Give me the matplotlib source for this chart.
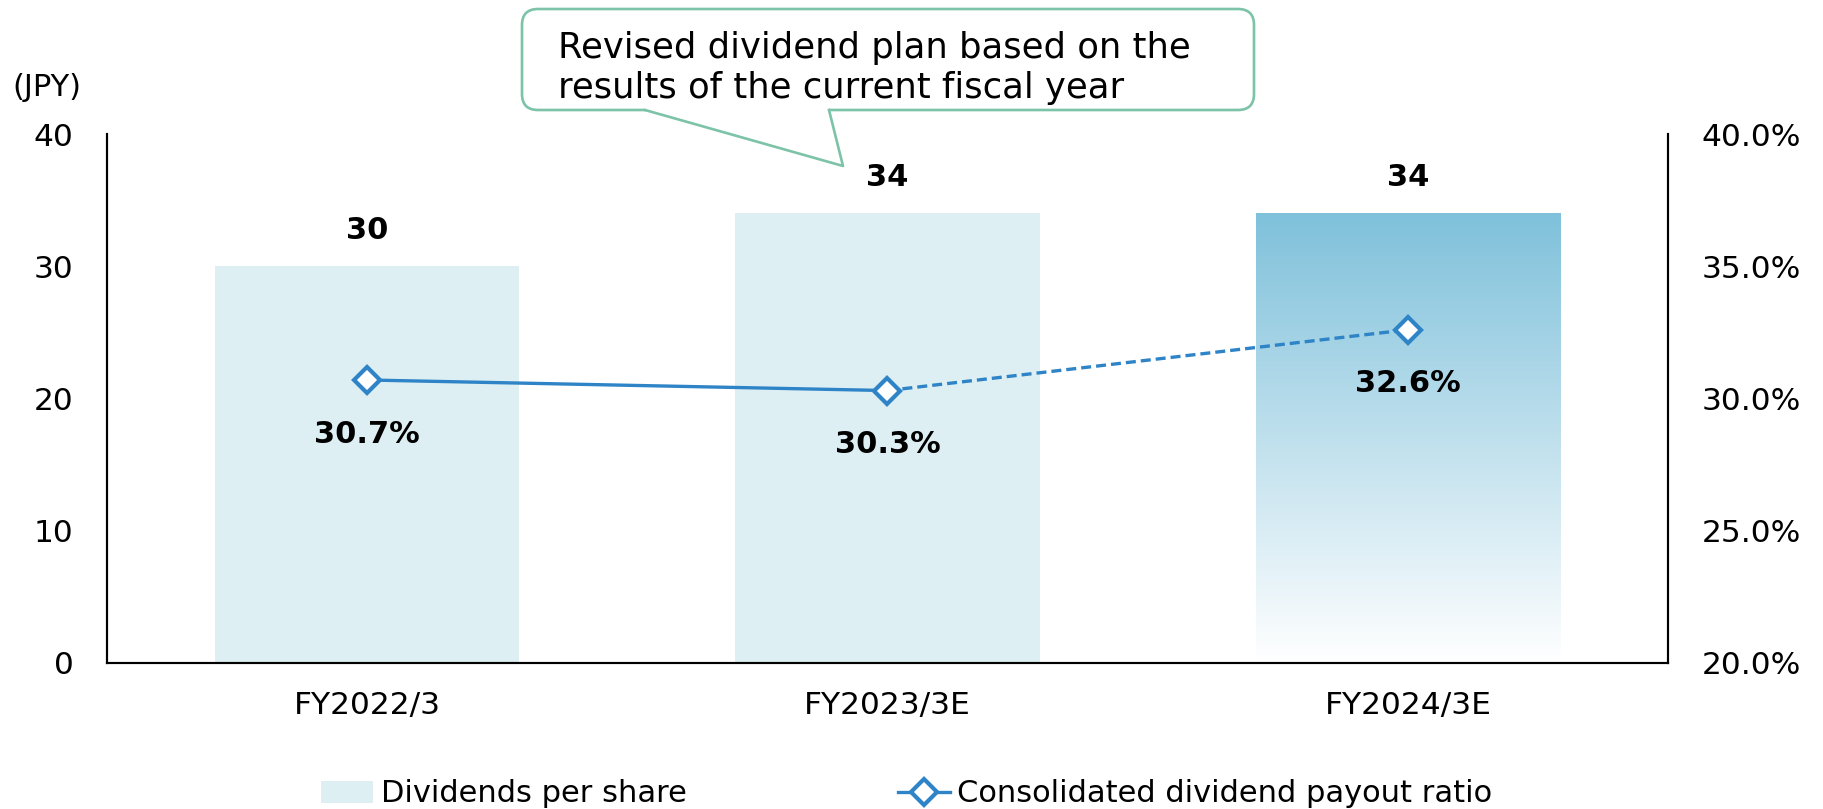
"""Dividends per share with consolidated payout ratio."""

import matplotlib
matplotlib.use("Agg")
import matplotlib.colors as mcolors
import matplotlib.pyplot as plt
import numpy as np
from matplotlib.lines import Line2D
from matplotlib.patches import FancyBboxPatch, Patch, Polygon
from matplotlib.ticker import FuncFormatter
from matplotlib.transforms import IdentityTransform

categories = ["FY2022/3", "FY2023/3E", "FY2024/3E"]
dividends = [30, 34, 34]
payout_ratio = [30.7, 30.3, 32.6]
dps_ticks = [0, 10, 20, 30, 40]
ratio_ticks = [20, 25, 30, 35, 40]
legend_labels = ["Dividends per share", "Consolidated dividend payout ratio"]
callout_text = "Revised dividend plan based on the\nresults of the current fiscal year"

BAR_COLOR = "#DDEFF3"
GRAD_TOP = "#7FC1DB"
LINE_COLOR = "#2E84C6"
CALLOUT_EDGE = "#7CC3A7"

W, H = 1823, 809

plt.rcParams["font.family"] = ["DejaVu Sans"]

fig = plt.figure(figsize=(W / 100, H / 100), dpi=100)
ax = fig.add_axes([107 / W, 1 - 663 / H, (1668 - 107) / W, (663 - 134) / H])
ax2 = ax.twinx()

x = np.arange(len(categories))
bars = ax.bar(x, dividends, width=0.585, color=BAR_COLOR, zorder=1)

# last bar is a forecast: vertical gradient, clipped to the bar
last = bars[-1]
last.set_facecolor("none")
x0, w, h = last.get_x(), last.get_width(), last.get_height()
top = np.array(mcolors.to_rgb(GRAD_TOP))
t = np.linspace(0, 1, 256)[:, None]
grad = (top[None, :] + t * (1 - top[None, :])).reshape(256, 1, 3)
img = ax.imshow(grad, extent=[x0, x0 + w, 0, h], origin="upper",
                aspect="auto", zorder=1, interpolation="bilinear")
img.set_clip_path(last)

ax.set_xlim(-0.5, len(categories) - 0.5)
ax.set_ylim(0, 40)
ax.set_yticks(dps_ticks)
ax.set_xticks(x)
ax.set_xticklabels(categories)

for xi, v in zip(x, dividends):
    ax.annotate(f"{v}", (xi, v), xytext=(0, 26), textcoords="offset points",
                ha="center", va="center", fontsize=22, fontweight="bold")

# payout ratio line: actual solid, forecast dashed
ax2.plot(x[:2], payout_ratio[:2], color=LINE_COLOR, lw=2.4, zorder=3)
ax2.plot(x[1:], payout_ratio[1:], color=LINE_COLOR, lw=2.4, dashes=(3, 1.5), zorder=3)
ax2.plot(x, payout_ratio, ls="none", marker="D", ms=13.5, mfc="white",
         mec=LINE_COLOR, mew=3, zorder=4)
for xi, r in zip(x, payout_ratio):
    ax2.annotate(f"{r:.1f}%", (xi, r), xytext=(0, -39), textcoords="offset points",
                 ha="center", va="center", fontsize=22, fontweight="bold")

ax2.set_ylim(20, 40)
ax2.set_yticks(ratio_ticks)
ax2.yaxis.set_major_formatter(FuncFormatter(lambda v, _: f"{v:.1f}%"))

for a in (ax, ax2):
    a.spines["top"].set_visible(False)
    for s in ("left", "right", "bottom"):
        a.spines[s].set_linewidth(1.5)
        a.spines[s].set_color("black")
    a.tick_params(axis="y", length=0, pad=24, labelsize=22.5)
    a.tick_params(axis="x", length=0, pad=20, labelsize=22.5)

fig.text(12 / W, 1 - 87 / H, "(JPY)", ha="left", va="center", fontsize=22)

# callout box (figure pixel coordinates)
ident = IdentityTransform()
box = FancyBboxPatch((522, H - 110), 732, 101,
                     boxstyle="round,pad=0,rounding_size=16",
                     fc="white", ec=CALLOUT_EDGE, lw=1.9, transform=ident)
fig.add_artist(box)
tail = Polygon([(645, H - 106), (829, H - 106), (829, H - 110), (843, H - 166), (645, H - 110)],
               closed=True, fc="white", ec="none", transform=ident)
fig.add_artist(tail)
fig.add_artist(Line2D([645, 843, 829], [H - 110, H - 166, H - 110],
                      color=CALLOUT_EDGE, lw=1.9, transform=ident))
fig.text(558, H - 68, callout_text, transform=ident, ha="left", va="center",
         fontsize=25.5, linespacing=1.2)

handles = [
    Patch(fc=BAR_COLOR, ec="none"),
    Line2D([], [], color=LINE_COLOR, lw=2.4, marker="D", ms=13.5, mfc="white",
           mec=LINE_COLOR, mew=3),
]
fig.legend(handles, legend_labels, loc="center", bbox_to_anchor=(907 / W, 1 - 794 / H),
           ncol=2, frameon=False, fontsize=22, handlelength=1.7,
           handletextpad=0.25, columnspacing=6.9)

fig.savefig("out.png", dpi=100)
plt.close(fig)
